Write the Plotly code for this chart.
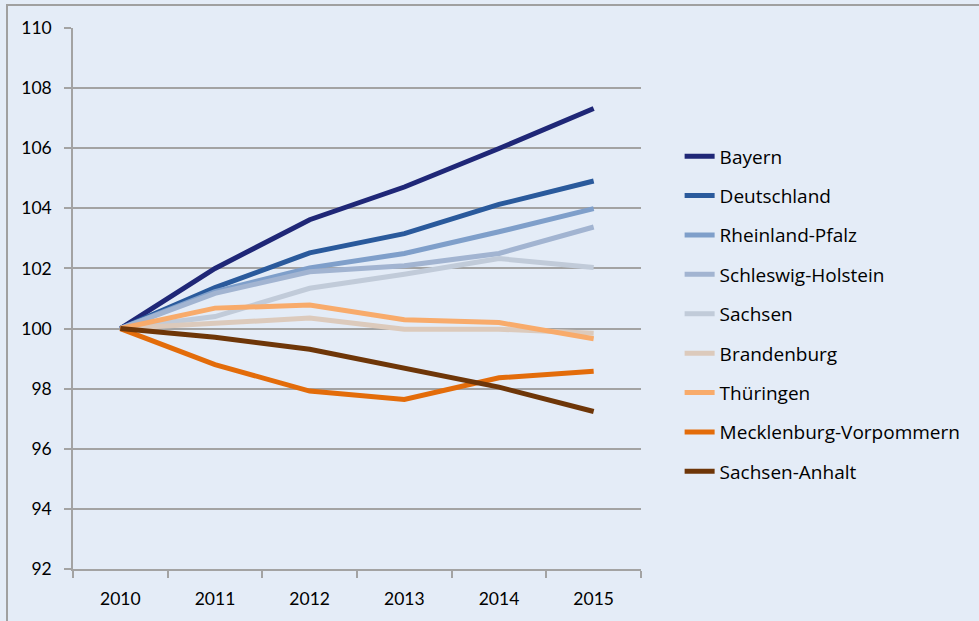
import plotly.graph_objects as go

years = ["2010", "2011", "2012", "2013", "2014", "2015"]

bayern = [100.0, 102.0, 103.62, 104.71, 105.99, 107.32]
deutschland = [100.0, 101.36, 102.52, 103.16, 104.13, 104.91]
rheinland_pfalz = [100.0, 101.23, 102.02, 102.5, 103.22, 103.99]
schleswig_holstein = [100.0, 101.17, 101.89, 102.09, 102.5, 103.38]
sachsen = [100.0, 100.4, 101.34, 101.81, 102.33, 102.03]
brandenburg = [100.0, 100.18, 100.35, 99.98, 99.98, 99.84]
thueringen = [100.0, 100.68, 100.78, 100.29, 100.2, 99.66]
mecklenburg_vorpommern = [100.0, 98.8, 97.92, 97.64, 98.36, 98.58]
sachsen_anhalt = [100.0, 99.71, 99.31, 98.69, 98.05, 97.24]

series_names = ["Bayern", "Deutschland", "Rheinland-Pfalz", "Schleswig-Holstein",
                "Sachsen", "Brandenburg", "Thüringen", "Mecklenburg-Vorpommern",
                "Sachsen-Anhalt"]
series_values = [bayern, deutschland, rheinland_pfalz, schleswig_holstein, sachsen,
                 brandenburg, thueringen, mecklenburg_vorpommern, sachsen_anhalt]
series_colors = ["#1F2777", "#2A5A9C", "#7F9FCA", "#A2B4D1", "#C1CBD9",
                 "#DCCABC", "#F8AB6B", "#E36C0A", "#6E3608"]

y_ticks = list(range(92, 111, 2))

TICK_FONT = "Lato"
LEG_FONT = "Open Sans"
GRID = "#A3A3A3"
BG = "#E4ECF7"

fig = go.Figure()
for name, vals, col in zip(series_names, series_values, series_colors):
    fig.add_trace(go.Scatter(
        x=years, y=vals, name=name, mode="lines",
        line=dict(color=col, width=5),
        legendgroup=name,
    ))

# outer frame of the chart area (partly cut off in the reference)
fig.add_shape(type="rect", xref="paper", yref="paper",
              x0=-0.1162, x1=2.0, y0=-1.0, y1=1.0425,
              line=dict(color="#A0A0A0", width=2), fillcolor="rgba(0,0,0,0)",
              layer="below")

fig.update_layout(
    width=979, height=621,
    margin=dict(l=73, r=338, t=28, b=52),
    paper_bgcolor=BG,
    plot_bgcolor=BG,
    font=dict(family=TICK_FONT, size=17, color="#000000"),
    showlegend=True,
    legend=dict(
        x=1.068, y=0.798, xanchor="left", yanchor="top",
        bgcolor="rgba(0,0,0,0)",
        font=dict(family=LEG_FONT, size=19, color="#000000"),
        tracegroupgap=11.7,
        itemwidth=30,
    ),
    xaxis=dict(
        type="category",
        tickson="boundaries",
        ticks="outside", ticklen=7, tickcolor=GRID, tickwidth=1.5,
        showgrid=False,
        showline=True, linecolor=GRID, linewidth=2,
        range=[-0.5, 5.5],
        ticklabelstandoff=13,
        tickfont=dict(family=TICK_FONT, size=17.5),
    ),
    yaxis=dict(
        range=[92, 110],
        tickvals=y_ticks,
        ticks="outside", ticklen=7, tickcolor=GRID, tickwidth=1.5,
        showgrid=True, gridcolor=GRID, gridwidth=2,
        showline=True, linecolor=GRID, linewidth=1.5,
        zeroline=False,
        ticklabelstandoff=9,
        tickfont=dict(family=TICK_FONT, size=17.5),
    ),
)

fig.write_html(
    "out.html",
    config={"displayModeBar": False},
    post_script="document.body.style.margin='0px';"
                "document.body.style.background='" + BG + "';",
)
